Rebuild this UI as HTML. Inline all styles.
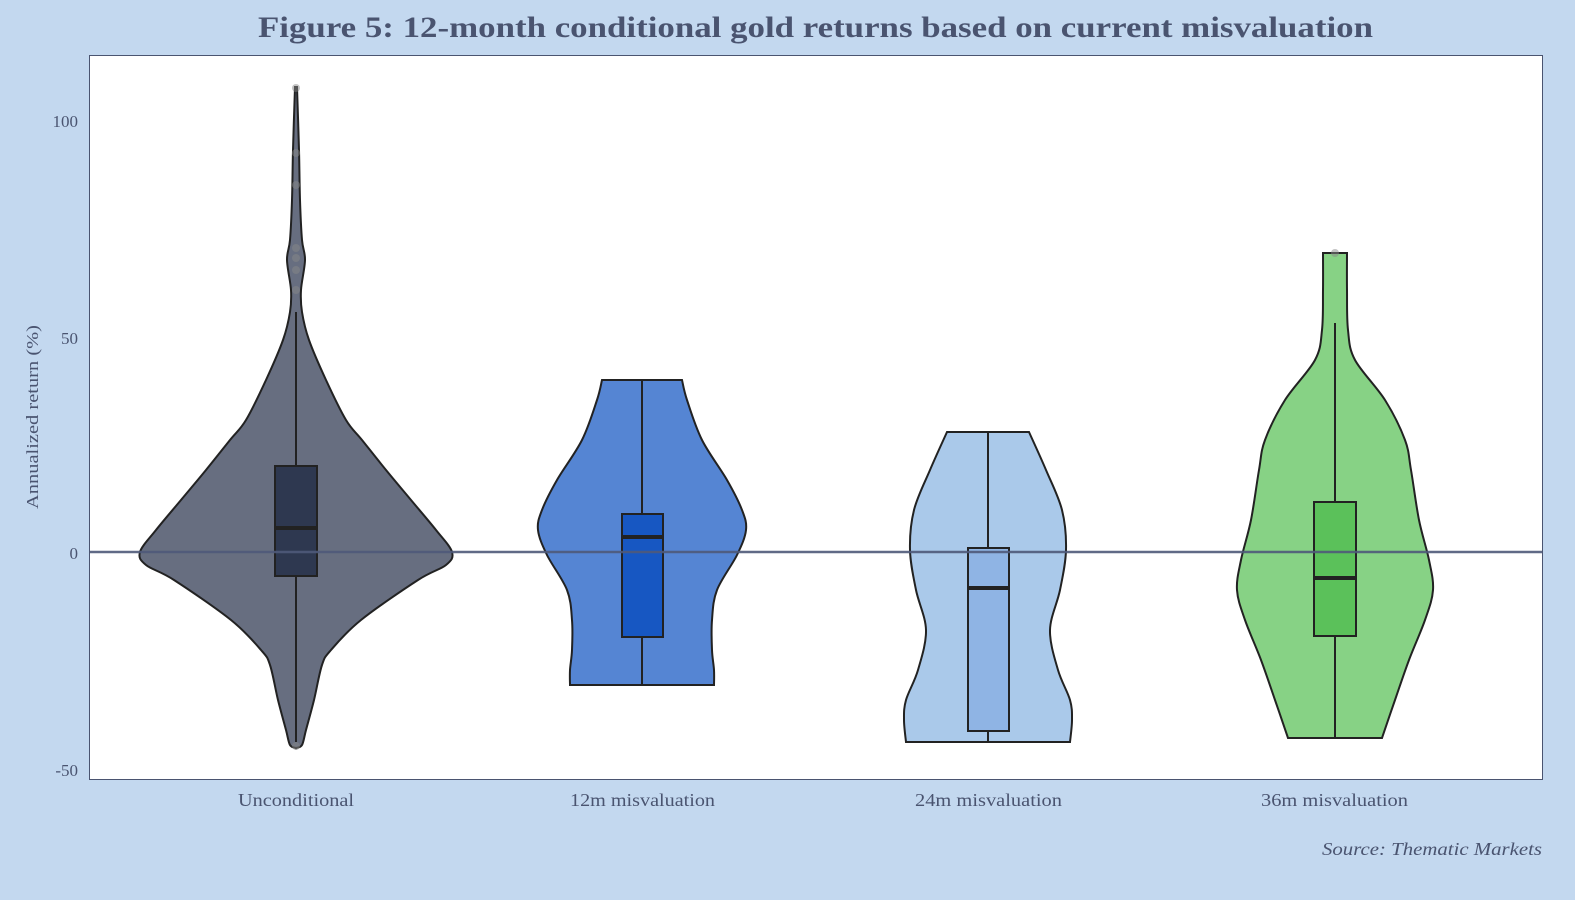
<!DOCTYPE html>
<html><head><meta charset="utf-8"><style>
body{margin:0;background:#c3d8ef;}
svg{display:block;font-family:"Liberation Serif",serif;}
</style></head><body>
<svg id="s" width="1575" height="900" xmlns="http://www.w3.org/2000/svg">
<rect width="1575" height="900" fill="#c3d8ef"/>
<text x="258" y="37" font-size="30" font-weight="bold" fill="#4a5470" textLength="1115" lengthAdjust="spacingAndGlyphs">Figure 5: 12-month conditional gold returns based on current misvaluation</text>
<rect x="89.5" y="55.5" width="1453" height="724" fill="#fff" stroke="#4a5470" stroke-width="1"/>
<g font-size="17" fill="#4a5470" text-anchor="end">
<text x="78" y="127">100</text><text x="78" y="344">50</text><text x="78" y="559">0</text><text x="78" y="776">-50</text>
</g>
<text transform="translate(38,509) rotate(-90)" font-size="17" fill="#4a5470" textLength="184" lengthAdjust="spacingAndGlyphs">Annualized return (%)</text>
<g font-size="18" fill="#4a5470">
<text x="238" y="806" textLength="116" lengthAdjust="spacingAndGlyphs">Unconditional</text>
<text x="570" y="806" textLength="145" lengthAdjust="spacingAndGlyphs">12m misvaluation</text>
<text x="915" y="806" textLength="147" lengthAdjust="spacingAndGlyphs">24m misvaluation</text>
<text x="1261" y="806" textLength="147" lengthAdjust="spacingAndGlyphs">36m misvaluation</text>
</g>
<text x="1322" y="855" font-size="18" font-style="italic" fill="#4a5470" textLength="220" lengthAdjust="spacingAndGlyphs">Source: Thematic Markets</text>
<g id="v"></g>
<line x1="90" y1="552" x2="1542" y2="552" stroke="#4f5a7a" stroke-width="2.5" opacity="0.9"/>
</svg>
<script>
var V=[
{c:296,f:"#676e80",b:"#2e3850",p:[[87,1],[150,3],[200,4],[240,6],[260,9],[290,5],[312,6],[340,13],[380,30],[420,50],[440,66],[470,90],[500,115],[530,140],[552,156],[565,150],[580,122],[620,65],[650,35],[665,26],[700,18],[730,10],[745,6],[748,0]],box:[275,317,466,576,528],w:[312,742],flat:false},
{c:642,f:"#5585d3",b:"#1757c2",p:[[380,40],[400,45],[440,60],[480,85],[510,100],[530,104],[555,95],[590,75],[620,70],[650,70],[670,72],[685,72]],box:[622,663,514,637,537],w:[380,685],flat:true},
{c:988,f:"#aac9ea",b:"#8fb4e4",p:[[432,41],[470,58],[510,74],[550,78],[590,72],[630,62],[670,70],[700,82],[720,84],[742,82]],box:[968,1009,548,731,588],w:[432,742],flat:true},
{c:1335,f:"#87d285",b:"#5bc15a",p:[[253,12],[290,12],[330,13],[360,20],[400,50],[440,70],[470,76],[520,84],[560,94],[590,98],[620,90],[660,74],[700,60],[738,47]],box:[1314,1356,502,636,578],w:[323,738],flat:true}];
function cr(pts){var d="M"+pts[0][0]+","+pts[0][1];for(var i=0;i<pts.length-1;i++){var p0=pts[i-1]||pts[i],p1=pts[i],p2=pts[i+1],p3=pts[i+2]||p2;
d+=" C"+(p1[0]+(p2[0]-p0[0])/6)+","+(p1[1]+(p2[1]-p0[1])/6)+" "+(p2[0]-(p3[0]-p1[0])/6)+","+(p2[1]-(p3[1]-p1[1])/6)+" "+p2[0]+","+p2[1];}return d;}
var h="";
V.forEach(function(v){var r=v.p.map(function(q){return[v.c+q[1],q[0]]});var l=v.p.slice().reverse().map(function(q){return[v.c-q[1],q[0]]});
var top=v.p[0];var d;
if(!v.flat){d=cr(r.concat(l))+" Z";}
else{d="M"+(v.c-top[1])+","+top[0]+" L"+r[0][0]+","+r[0][1]+cr(r).replace(/^M[^ ]+/,"")+" L"+l[0][0]+","+l[0][1]+cr(l).replace(/^M[^ ]+/,"")+" Z";}
h+='<path d="'+d+'" fill="'+v.f+'" stroke="#222" stroke-width="2"/>';
h+='<line x1="'+v.c+'" y1="'+v.w[0]+'" x2="'+v.c+'" y2="'+v.w[1]+'" stroke="#222" stroke-width="2"/>';
var b=v.box;h+='<rect x="'+b[0]+'" y="'+b[2]+'" width="'+(b[1]-b[0])+'" height="'+(b[3]-b[2])+'" fill="'+v.b+'" stroke="#222" stroke-width="2"/>';
h+='<line x1="'+b[0]+'" y1="'+b[4]+'" x2="'+b[1]+'" y2="'+b[4]+'" stroke="#222" stroke-width="4"/>';});
[[296,88],[296,153],[296,185],[296,248],[296,258],[296,270],[296,290],[296,746],[1335,253]].forEach(function(p){h+='<circle cx="'+p[0]+'" cy="'+p[1]+'" r="4" fill="#888" opacity="0.5"/>';});
document.getElementById("v").innerHTML=h;
</script>
</body></html>
